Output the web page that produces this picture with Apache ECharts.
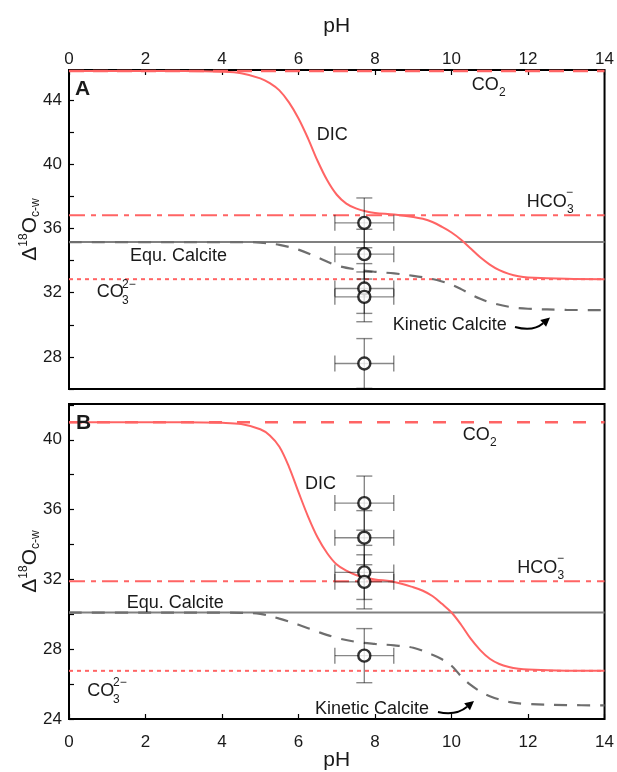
<!DOCTYPE html>
<html>
<head>
<meta charset="utf-8">
<script src="https://cdn.jsdelivr.net/npm/echarts@6/dist/echarts.min.js"></script>
<style>
  html, body { margin: 0; padding: 0; background: #fff; }
  #main { width: 617px; height: 772px; }
</style>
</head>
<body>
<div id="main"></div>
<script>
var phDic = [0, 1, 2, 3, 4, 4.5, 5, 5.25, 5.5, 5.75, 6, 6.25, 6.5, 6.75, 7, 7.25, 7.5, 7.75, 8, 8.5, 9, 9.25, 9.5, 9.75, 10, 10.25, 10.5, 10.75, 11, 11.25, 11.5, 11.75, 12, 13, 14];
var dicA = [45.8, 45.8, 45.8, 45.8, 45.76, 45.67, 45.35, 45.05, 44.6, 43.85, 42.85, 41.6, 40.2, 39.0, 38.1, 37.55, 37.25, 37.07, 36.97, 36.87, 36.72, 36.6, 36.4, 36.1, 35.75, 35.3, 34.75, 34.2, 33.75, 33.4, 33.17, 33.02, 32.95, 32.86, 32.84];
var dicB = [41.0, 41.0, 41.0, 41.0, 40.97, 40.9, 40.6, 40.25, 39.6, 38.45, 37.0, 35.6, 34.4, 33.5, 32.85, 32.5, 32.25, 32.1, 32.0, 31.85, 31.55, 31.35, 31.05, 30.6, 30.1, 29.4, 28.6, 27.95, 27.45, 27.15, 26.98, 26.88, 26.83, 26.77, 26.76];

// kinetic calcite (grey dashed)
var phKin = [0, 2, 4, 4.5, 5, 5.5, 6, 6.5, 7, 7.5, 8, 8.5, 9, 9.5, 9.75, 10, 10.25, 10.5, 10.75, 11, 11.5, 12, 13, 14];
var kinA = [35.15, 35.15, 35.15, 35.15, 35.12, 34.98, 34.68, 34.2, 33.7, 33.45, 33.3, 33.2, 33.05, 32.85, 32.7, 32.5, 32.22, 31.9, 31.62, 31.4, 31.12, 31.0, 30.93, 30.91];
var kinB = [30.1, 30.1, 30.1, 30.08, 30.02, 29.75, 29.4, 29.0, 28.65, 28.42, 28.3, 28.22, 28.08, 27.68, 27.42, 27.05, 26.45, 25.95, 25.58, 25.3, 24.98, 24.86, 24.8, 24.78];

// horizontal reference levels [A, B]
var co2 = [45.8, 41.0];
var hco3 = [36.83, 31.9];
var co3 = [32.84, 26.76];
var equCalcite = [35.15, 30.1];

// measured samples
var samplePh = 7.72;
var samplesA = [36.35, 34.4, 32.26, 31.74, 27.59];
var samplesB = [36.37, 34.39, 32.4, 31.86, 27.63];
var phErr = 0.77;
var isoErr = 1.55;

var FONT = '"Liberation Sans", Arial, Helvetica, sans-serif';
var RED = '#ff6464';

function pairs(xs, ys) {
    return xs.map(function (x, i) { return [x, ys[i]]; });
}
function flat(v) {
    return [[0, v], [14, v]];
}

function panelSeries(p, dic, kin, samples) {
    var base = { xAxisIndex: p, yAxisIndex: p, symbol: 'none', silent: true, type: 'line' };
    return [
        Object.assign({}, base, { data: flat(equCalcite[p]), lineStyle: { color: '#808080', width: 2 }, z: 2 }),
        Object.assign({}, base, { data: flat(co2[p]), lineStyle: { color: RED, width: 2.5, type: p === 0 ? [15, 9] : [13, 15] }, z: 3 }),
        Object.assign({}, base, { data: flat(hco3[p]), lineStyle: { color: RED, width: 2, type: [16, 6, 5, 6] }, z: 3 }),
        Object.assign({}, base, { data: flat(co3[p]), lineStyle: { color: RED, width: 2, type: [4, 4] }, z: 3 }),
        Object.assign({}, base, { data: pairs(phKin, kin), smooth: 0.35, lineStyle: { color: '#6e6e6e', width: 2.2, type: [13, 10] }, z: 4 }),
        Object.assign({}, base, { data: pairs(phDic, dic), smooth: 0.35, lineStyle: { color: RED, width: 2 }, z: 5 }),
        {
            type: 'custom', xAxisIndex: p, yAxisIndex: p, silent: true, z: 6,
            data: samples.map(function (v) { return [samplePh, v, phErr, isoErr]; }),
            renderItem: function (params, api) {
                var x = api.value(0), y = api.value(1), ex = api.value(2), ey = api.value(3);
                var l = api.coord([x - ex, y]), r = api.coord([x + ex, y]);
                var t = api.coord([x, y + ey]), b = api.coord([x, y - ey]);
                var cap = 8;
                var st = { stroke: 'rgba(0,0,0,0.47)', lineWidth: 1.4 };
                var seg = function (x1, y1, x2, y2) {
                    return { type: 'line', shape: { x1: x1, y1: y1, x2: x2, y2: y2 }, style: st };
                };
                return {
                    type: 'group',
                    children: [
                        seg(l[0], l[1], r[0], r[1]),
                        seg(l[0], l[1] - cap, l[0], l[1] + cap),
                        seg(r[0], r[1] - cap, r[0], r[1] + cap),
                        seg(t[0], t[1], b[0], b[1]),
                        seg(t[0] - cap, t[1], t[0] + cap, t[1]),
                        seg(b[0] - cap, b[1], b[0] + cap, b[1])
                    ]
                };
            }
        },
        {
            type: 'scatter', xAxisIndex: p, yAxisIndex: p, silent: true, z: 7,
            data: samples.map(function (v) { return [samplePh, v]; }),
            symbol: 'circle', symbolSize: 12,
            itemStyle: { color: '#fff', borderColor: '#000', borderWidth: 2.4 }
        }
    ];
}

function txt(x, y, s, size, bold) {
    return {
        type: 'text', x: x, y: y, silent: true, z: 20,
        style: {
            text: s, fill: '#1a1a1a',
            font: (bold ? 'bold ' : '') + size + 'px ' + FONT,
            textAlign: 'left', verticalAlign: 'middle', textVerticalAlign: 'middle'
        }
    };
}

function arrow(x1, y1, cx, cy, tx, ty) {
    var dx = tx - cx, dy = ty - cy, len = Math.sqrt(dx * dx + dy * dy);
    dx /= len; dy /= len;
    var bx = tx - 9 * dx, by = ty - 9 * dy;
    return {
        type: 'group', silent: true, z: 20,
        children: [
            { type: 'bezierCurve', shape: { x1: x1, y1: y1, x2: bx, y2: by, cpx1: cx, cpy1: cy }, style: { stroke: '#000', lineWidth: 2, fill: null } },
            { type: 'polygon', shape: { points: [[tx, ty], [bx - 4.5 * dy, by + 4.5 * dx], [bx + 4.5 * dy, by - 4.5 * dx]] }, style: { fill: '#000' } }
        ]
    };
}

function yAxisCfg(p, min, max) {
    return {
        type: 'value', gridIndex: p, min: min, max: max, interval: 2,
        name: '{d|Δ}{sup|18}{d|O}{sub|c-w}',
        nameLocation: 'middle', nameGap: 27, nameRotate: 90, nameMoveOverlap: false,
        nameTextStyle: {
            rich: {
                d: { fontSize: 21, fontFamily: FONT, color: '#1a1a1a', lineHeight: 24 },
                sup: { fontSize: 12, fontFamily: FONT, color: '#1a1a1a', lineHeight: 12, verticalAlign: 'top' },
                sub: { fontSize: 12, fontFamily: FONT, color: '#1a1a1a', lineHeight: 12, verticalAlign: 'bottom' }
            }
        },
        axisLine: { show: false },
        axisTick: { inside: true, length: 5, lineStyle: { color: '#000', width: 1.2 } },
        axisLabel: {
            fontSize: 17, fontFamily: FONT, color: '#1a1a1a', margin: 7,
            formatter: function (v) { return Math.abs(v % 4) < 1e-6 ? String(v) : ''; }
        },
        splitLine: { show: false }
    };
}

function xAxisCfg(p, pos, gap, margin) {
    return {
        type: 'value', gridIndex: p, position: pos, min: 0, max: 14, interval: 2,
        name: 'pH', nameLocation: 'middle', nameGap: gap, nameMoveOverlap: false,
        nameTextStyle: { fontSize: 21, fontFamily: FONT, color: '#1a1a1a' },
        axisLine: { show: false },
        axisTick: { inside: true, length: 5, lineStyle: { color: '#000', width: 1.2 } },
        axisLabel: { fontSize: 17, fontFamily: FONT, color: '#1a1a1a', margin: margin },
        splitLine: { show: false }
    };
}

var chart = echarts.init(document.getElementById('main'));
var option = {
    animation: false,
    backgroundColor: '#fff',
    grid: [
        { left: 69, right: 12, top: 70, height: 319, show: true, borderColor: '#000', borderWidth: 2, backgroundColor: 'transparent' },
        { left: 69, right: 12, top: 404, height: 321, show: true, borderColor: '#000', borderWidth: 2, backgroundColor: 'transparent' }
    ],
    xAxis: [xAxisCfg(0, 'top', 33, 2), xAxisCfg(1, 'bottom', 31, 15)],
    yAxis: [yAxisCfg(0, 26, 45.87), yAxisCfg(1, 24, 42.05)],
    series: panelSeries(0, dicA, kinA, samplesA).concat(panelSeries(1, dicB, kinB, samplesB)),
    graphic: [
        txt(75, 89, 'A', 21, true),
        txt(471.7, 85, 'CO', 18), txt(499, 92.5, '2', 12),
        txt(316.7, 135, 'DIC', 18),
        txt(526.7, 202, 'HCO', 18), txt(567, 210, '3', 12), txt(566, 193, '−', 12),
        txt(130, 256, 'Equ. Calcite', 18),
        txt(96.7, 292.5, 'CO', 18), txt(122, 300.5, '3', 12), txt(122, 284.5, '2−', 12),
        txt(392.7, 325.5, 'Kinetic Calcite', 18),
        arrow(515, 327, 533, 332, 550, 317.5),

        txt(76, 423, 'B', 21, true),
        txt(462.7, 435.5, 'CO', 18), txt(490, 443, '2', 12),
        txt(305, 484.5, 'DIC', 18),
        txt(517.3, 567.7, 'HCO', 18), txt(557.5, 575.5, '3', 12), txt(557, 558.5, '−', 12),
        txt(126.7, 603.3, 'Equ. Calcite', 18),
        txt(87.3, 691, 'CO', 18), txt(113, 699.5, '3', 12), txt(113, 683, '2−', 12),
        txt(315, 709, 'Kinetic Calcite', 18),
        arrow(438, 712, 456, 716, 474, 701)
    ]
};
chart.setOption(option);
</script>
</body>
</html>
